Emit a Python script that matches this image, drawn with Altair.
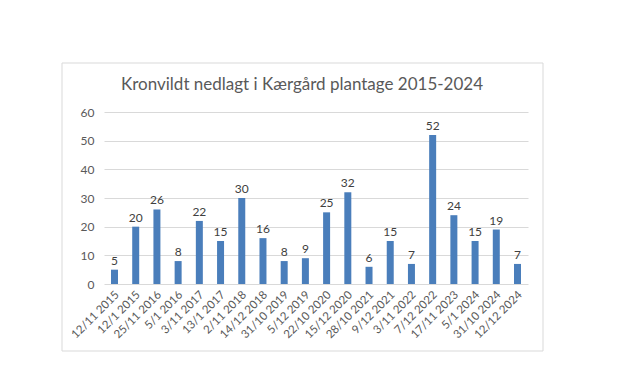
import altair as alt
import pandas as pd

dates = ["12/11 2015", "12/1 2015", "25/11 2016", "5/1 2016", "3/11 2017", "13/1 2017",
         "2/11 2018", "14/12 2018", "31/10 2019", "5/12 2019", "22/10 2020", "15/12 2020",
         "28/10 2021", "9/12 2021", "3/11 2022", "7/12 2022", "17/11 2023", "5/1 2024",
         "31/10 2024", "12/12 2024"]
counts = [5, 20, 26, 8, 22, 15, 30, 16, 8, 9, 25, 32, 6, 15, 7, 52, 24, 15, 19, 7]
y_ticks = [0, 10, 20, 30, 40, 50, 60]

df = pd.DataFrame({"dato": dates, "antal": counts})

FONT = "Lato"
GREY = "#595959"

x = alt.X("dato:N", sort=dates, title=None,
          scale=alt.Scale(paddingInner=0.67, paddingOuter=0.33),
          axis=alt.Axis(labelAngle=-45, labelAlign="right", labelBaseline="middle",
                        labelPadding=9, labelOffset=3, ticks=False, domain=False,
                        labelOverlap=False))
y = alt.Y("antal:Q", title=None,
          scale=alt.Scale(domain=[0, 60]),
          axis=alt.Axis(values=y_ticks, ticks=False, domain=False, labelOverlap=False,
                        labelPadding=10))

border = alt.Chart(pd.DataFrame({"a": [0]})).mark_rect(
    fill="white", fillOpacity=0, stroke="#d9d9d9", strokeWidth=1
).encode(x=alt.value(-42), x2=alt.value(439), y=alt.value(-49), y2=alt.value(239))

bars = alt.Chart(df).mark_bar(color="#4a7ebb").encode(x=x, y=y)
labels = alt.Chart(df).mark_text(dy=-9, font=FONT, fontSize=12, color="#404040").encode(
    x=x, y=y, text="antal:Q")

title = alt.Chart(pd.DataFrame({"t": ["Kronvildt nedlagt i Kærgård plantage 2015-2024"]})).mark_text(
    font=FONT, fontSize=17, color=GREY, align="center", baseline="middle"
).encode(x=alt.value(198), y=alt.value(-27), text="t:N")

chart = alt.layer(border, bars, labels, title).properties(
    width=424, height=172,
    padding={"left": 96, "top": 104, "right": 80, "bottom": 90},
    autosize=alt.AutoSizeParams(type="none"),
).configure_view(stroke=None).configure_axis(
    labelFont=FONT, labelFontSize=12, labelColor=GREY,
    gridColor="#d9d9d9", gridWidth=1
).configure_axisX(grid=False, labelFontSize=11.5)

chart.save("out.html", embed_options={"renderer": "svg", "actions": False})
